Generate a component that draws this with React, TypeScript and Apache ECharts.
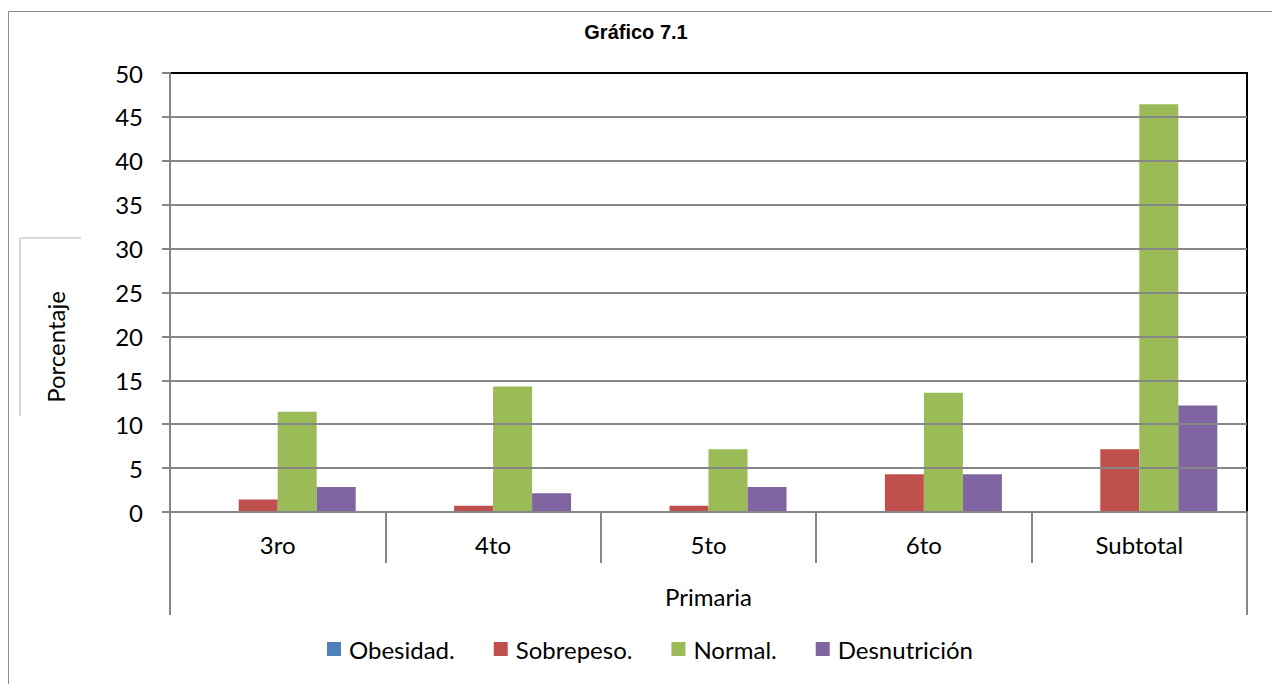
import React, { useEffect, useRef } from "react";
import * as echarts from "echarts";

const categories = ["3ro", "4to", "5to", "6to", "Subtotal"];
const groupLabel = ["Primaria"];
const obesidad = [0, 0, 0, 0, 0];
const sobrepeso = [1.43, 0.71, 0.71, 4.29, 7.14];
const normal = [11.43, 14.29, 7.14, 13.57, 46.43];
const desnutricion = [2.86, 2.14, 2.86, 4.29, 12.14];
const seriesNames = ["Obesidad.", "Sobrepeso.", "Normal.", "Desnutrición"];
const seriesColors = ["#4f81bd", "#c0504d", "#9bbb59", "#8064a2"];

const FONT = "Lato";

export default function App() {
  const ref = useRef<HTMLDivElement>(null);
  useEffect(() => {
    if (!ref.current) return;
    const chart = echarts.init(ref.current, undefined, { renderer: "svg" });
    const gridLineColors = Array.from({ length: 11 }, (_, i) => (i === 10 ? "#000000" : "#868686"));
    const dataSets = [obesidad, sobrepeso, normal, desnutricion];
    chart.setOption({
      animation: false,
      backgroundColor: "#ffffff",
      title: {
        text: "Gráfico 7.1",
        left: "center",
        top: 17,
        textStyle: { fontFamily: "Liberation Sans", fontWeight: "bold", fontSize: 20, color: "#000" },
      },
      grid: {
        left: 170,
        right: 25,
        top: 73,
        bottom: 172,
        show: true,
        borderColor: "#000",
        borderWidth: 2,
        backgroundColor: "transparent",
      },
      legend: {
        data: seriesNames,
        left: 322,
        top: 632,
        icon: "rect",
        itemWidth: 14,
        itemHeight: 14,
        itemGap: 39,
        textStyle: { fontFamily: FONT, fontSize: 24, color: "#000", padding: [0, 0, 0, 3] },
      },
      xAxis: [
        {
          type: "category",
          data: categories,
          position: "bottom",
          axisLine: { lineStyle: { color: "#868686", width: 2 } },
          axisTick: { show: true, interval: 0, length: 51, lineStyle: { color: "#868686", width: 2 } },
          axisLabel: { interval: 0, margin: 20, fontFamily: FONT, fontSize: 24, color: "#000" },
          z: 5,
        },
        {
          type: "category",
          data: groupLabel,
          position: "bottom",
          axisLine: { show: false },
          axisTick: { show: true, length: 103, lineStyle: { color: "#868686", width: 2 } },
          axisLabel: { margin: 72, fontFamily: FONT, fontSize: 24, color: "#000" },
        },
      ],
      yAxis: {
        type: "value",
        min: 0,
        max: 50,
        interval: 5,
        axisLine: { show: true, lineStyle: { color: "#868686", width: 2 } },
        axisTick: { show: true, length: 8, lineStyle: { color: "#868686", width: 2 } },
        axisLabel: { margin: 27, fontFamily: FONT, fontSize: 24, color: "#000" },
        splitLine: { show: true, lineStyle: { color: gridLineColors, width: 2 } },
        z: 5,
      },
      series: seriesNames.map((name, i) => ({
        name,
        type: "bar",
        xAxisIndex: 0,
        data: dataSets[i],
        barWidth: 39,
        barGap: "0%",
        itemStyle: { color: seriesColors[i] },
        z: 3,
      })),
      graphic: [
        {
          type: "rect",
          shape: { x: 8.5, y: 11.5, width: 1400, height: 800 },
          style: { fill: "none", stroke: "#8c8c8c", lineWidth: 1 },
          silent: true,
          z: -10,
        },
        {
          type: "line",
          shape: { x1: 20, y1: 238, x2: 81, y2: 238 },
          style: { stroke: "#d9d9d9", lineWidth: 2 },
          silent: true,
        },
        {
          type: "line",
          shape: { x1: 20, y1: 238, x2: 20, y2: 416 },
          style: { stroke: "#d9d9d9", lineWidth: 2 },
          silent: true,
        },
        {
          type: "text",
          x: 55,
          y: 347,
          rotation: Math.PI / 2,
          style: {
            text: "Porcentaje",
            fontFamily: FONT,
            fontSize: 24,
            fill: "#000",
            align: "center",
            verticalAlign: "middle",
          },
          silent: true,
        },
      ],
    });
    return () => chart.dispose();
  }, []);
  return (
    <div
      ref={ref}
      style={{ position: "fixed", left: 0, top: 0, width: 1272, height: 684 }}
    />
  );
}
